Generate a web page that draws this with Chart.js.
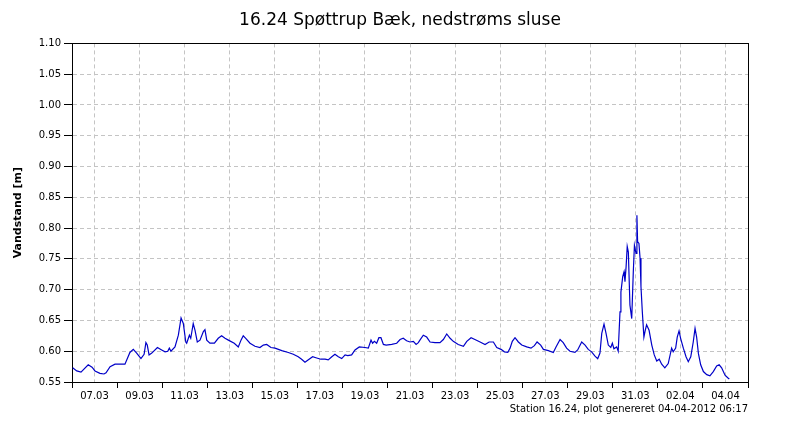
<!DOCTYPE html>
<html>
<head>
<meta charset="utf-8">
<script src="https://cdn.jsdelivr.net/npm/chart.js@4.4.1/dist/chart.umd.min.js"></script>
<style>
  html, body { margin: 0; padding: 0; background: #fff; }
</style>
</head>
<body>
<canvas id="levelChart" width="800" height="425"></canvas>
<script>
// Tick labels, one per day from 06.03 to 05.04 (only every second one is shown)
const dayLabels = [
    '06.03', '07.03', '08.03', '09.03', '10.03', '11.03', '12.03', '13.03', '14.03', '15.03',
    '16.03', '17.03', '18.03', '19.03', '20.03', '21.03', '22.03', '23.03', '24.03', '25.03',
    '26.03', '27.03', '28.03', '29.03', '30.03', '31.03', '01.04', '02.04', '03.04', '04.04', '05.04'
];

// Time in days after 06.03 00:00
const days = [
    0.03, 0.21, 0.40, 0.53, 0.72, 0.89, 1.02, 1.24, 1.42, 1.51,
    1.69, 1.91, 2.35, 2.57, 2.72, 2.87, 3.06, 3.20, 3.28, 3.34,
    3.42, 3.54, 3.79, 3.98, 4.13, 4.25, 4.32, 4.39, 4.57, 4.72,
    4.84, 4.94, 5.05, 5.09, 5.21, 5.27, 5.38, 5.46, 5.56, 5.68,
    5.83, 5.90, 5.98, 6.12, 6.32, 6.49, 6.64, 6.79, 6.94, 7.20,
    7.38, 7.50, 7.60, 7.71, 7.90, 8.12, 8.34, 8.49, 8.64, 8.83,
    9.01, 9.31, 9.60, 9.82, 10.04, 10.19, 10.34, 10.49, 10.68, 10.86,
    11.04, 11.23, 11.37, 11.53, 11.67, 11.82, 11.97, 12.12, 12.24, 12.41,
    12.56, 12.75, 13.00, 13.15, 13.27, 13.34, 13.42, 13.52, 13.62, 13.71,
    13.82, 13.94, 14.19, 14.41, 14.56, 14.70, 14.85, 15.00, 15.15, 15.27,
    15.37, 15.44, 15.59, 15.74, 15.89, 16.11, 16.33, 16.48, 16.63, 16.78,
    16.92, 17.14, 17.37, 17.52, 17.71, 17.88, 18.11, 18.33, 18.51, 18.70,
    18.85, 19.04, 19.19, 19.34, 19.44, 19.54, 19.66, 19.81, 19.96, 20.18,
    20.37, 20.52, 20.64, 20.80, 20.92, 21.14, 21.36, 21.48, 21.66, 21.80,
    21.95, 22.10, 22.32, 22.44, 22.62, 22.77, 22.91, 23.06, 23.21, 23.33,
    23.43, 23.51, 23.61, 23.70, 23.80, 23.91, 23.98, 24.05, 24.17, 24.24,
    24.32, 24.36, 24.44, 24.50, 24.54, 24.59, 24.64, 24.69, 24.76, 24.84,
    24.91, 24.96, 25.03, 25.07, 25.10, 25.16, 25.21, 25.25, 25.31, 25.38,
    25.44, 25.50, 25.61, 25.73, 25.84, 25.95, 26.06, 26.17, 26.31, 26.46,
    26.61, 26.68, 26.79, 26.86, 26.94, 27.01, 27.13, 27.25, 27.35, 27.46,
    27.57, 27.65, 27.72, 27.80, 27.90, 28.02, 28.17, 28.31, 28.46, 28.61,
    28.72, 28.83, 28.98, 29.10, 29.17
];

// Vandstand [m]
const levels = [
    0.573, 0.568, 0.566, 0.571, 0.578, 0.574, 0.568, 0.564, 0.563, 0.565,
    0.575, 0.579, 0.579, 0.598, 0.603, 0.597, 0.588, 0.595, 0.614, 0.610,
    0.594, 0.597, 0.606, 0.602, 0.599, 0.600, 0.605, 0.600, 0.607, 0.626,
    0.654, 0.645, 0.615, 0.613, 0.626, 0.621, 0.645, 0.634, 0.615, 0.618,
    0.632, 0.635, 0.618, 0.613, 0.613, 0.621, 0.625, 0.621, 0.618, 0.613,
    0.607, 0.618, 0.625, 0.621, 0.613, 0.608, 0.606, 0.610, 0.611, 0.606,
    0.605, 0.601, 0.598, 0.595, 0.591, 0.587, 0.582, 0.586, 0.591, 0.589,
    0.587, 0.587, 0.586, 0.591, 0.595, 0.591, 0.588, 0.594, 0.593, 0.594,
    0.602, 0.607, 0.606, 0.605, 0.618, 0.613, 0.616, 0.613, 0.622, 0.622,
    0.611, 0.610, 0.611, 0.613, 0.619, 0.621, 0.617, 0.615, 0.616, 0.611,
    0.614, 0.618, 0.626, 0.623, 0.615, 0.614, 0.614, 0.619, 0.628, 0.621,
    0.616, 0.611, 0.608, 0.616, 0.622, 0.619, 0.615, 0.611, 0.615, 0.615,
    0.606, 0.603, 0.599, 0.598, 0.605, 0.616, 0.622, 0.615, 0.610, 0.607,
    0.605, 0.609, 0.615, 0.610, 0.603, 0.601, 0.598, 0.607, 0.619, 0.614,
    0.605, 0.600, 0.598, 0.602, 0.615, 0.610, 0.603, 0.599, 0.592, 0.588,
    0.597, 0.629, 0.644, 0.629, 0.610, 0.606, 0.613, 0.604, 0.607, 0.600,
    0.664, 0.696, 0.721, 0.729, 0.713, 0.737, 0.770, 0.761, 0.675, 0.653,
    0.729, 0.772, 0.759, 0.821, 0.778, 0.775, 0.751, 0.705, 0.664, 0.623,
    0.634, 0.643, 0.634, 0.610, 0.594, 0.584, 0.587, 0.579, 0.573, 0.580,
    0.605, 0.599, 0.605, 0.623, 0.633, 0.621, 0.605, 0.591, 0.583, 0.591,
    0.615, 0.637, 0.623, 0.596, 0.578, 0.567, 0.562, 0.560, 0.567, 0.576,
    0.578, 0.573, 0.561, 0.557, 0.555
];

const chartTitle = '16.24 Spøttrup Bæk, nedstrøms sluse';
const yAxisTitle = 'Vandstand [m]';
const footerText = 'Station 16.24, plot genereret 04-04-2012 06:17';

const FONT = '"DejaVu Sans", Verdana, sans-serif';
Chart.defaults.font.family = FONT;
Chart.defaults.color = '#000';

// Small caption under the x axis, right aligned to the plot frame
const footerPlugin = {
    id: 'footerText',
    afterDraw(chart) {
        const { ctx, chartArea } = chart;
        ctx.save();
        ctx.font = '10px ' + FONT;
        ctx.fillStyle = '#000';
        ctx.textAlign = 'right';
        ctx.textBaseline = 'middle';
        ctx.fillText(footerText, chartArea.right, chartArea.bottom + 27);
        ctx.restore();
    }
};

const gridGrey = '#c4c4c4';
const none = 'rgba(0,0,0,0)';

new Chart(document.getElementById('levelChart'), {
    type: 'line',
    data: {
        datasets: [{
            label: yAxisTitle,
            data: days.map((d, i) => ({ x: d, y: levels[i] })),
            borderColor: '#0000c8',
            borderWidth: 1.2,
            pointRadius: 0,
            tension: 0,
            fill: false
        }]
    },
    options: {
        responsive: false,
        animation: false,
        layout: { padding: 0 },
        plugins: {
            legend: { display: false },
            tooltip: { enabled: false },
            title: {
                display: true,
                text: chartTitle,
                font: { size: 17, weight: 'normal' },
                color: '#000',
                padding: { top: 10, bottom: 13 }
            }
        },
        scales: {
            x: {
                type: 'linear',
                position: 'bottom',
                min: 0,
                max: dayLabels.length - 1,
                afterFit: s => { s.height = 43; },
                ticks: {
                    stepSize: 1,
                    autoSkip: false,
                    maxRotation: 0,
                    padding: 2,
                    font: { size: 10 },
                    callback: v => (v % 2 === 1 ? dayLabels[v] : '')
                },
                grid: {
                    color: c => (c.tick && c.tick.value % 2 === 1 ? gridGrey : none),
                    tickColor: c => (c.tick && c.tick.value % 2 === 0 ? '#000' : none),
                    tickLength: 6,
                    tickBorderDash: []
                },
                border: { color: '#000', dash: [4, 3] }
            },
            xTop: {
                type: 'linear',
                position: 'top',
                afterFit: s => { s.height = 0; },
                ticks: { display: false },
                grid: { drawOnChartArea: false, drawTicks: false },
                border: { color: '#000' }
            },
            y: {
                min: 0.55,
                max: 1.10,
                afterFit: s => { s.width = 72; },
                ticks: {
                    stepSize: 0.05,
                    padding: 3,
                    font: { size: 10 },
                    callback: v => v.toFixed(2)
                },
                grid: {
                    color: gridGrey,
                    tickColor: '#000',
                    tickLength: 8,
                    tickBorderDash: []
                },
                border: { color: '#000', dash: [4, 3] },
                title: {
                    display: true,
                    text: yAxisTitle,
                    font: { size: 11, weight: 'bold' },
                    padding: { top: 12, bottom: 0 }
                }
            },
            yRight: {
                position: 'right',
                afterFit: s => { s.width = 52; },
                ticks: { display: false },
                grid: { drawOnChartArea: false, drawTicks: false },
                border: { color: '#000' }
            }
        }
    },
    plugins: [footerPlugin]
});
</script>
</body>
</html>
